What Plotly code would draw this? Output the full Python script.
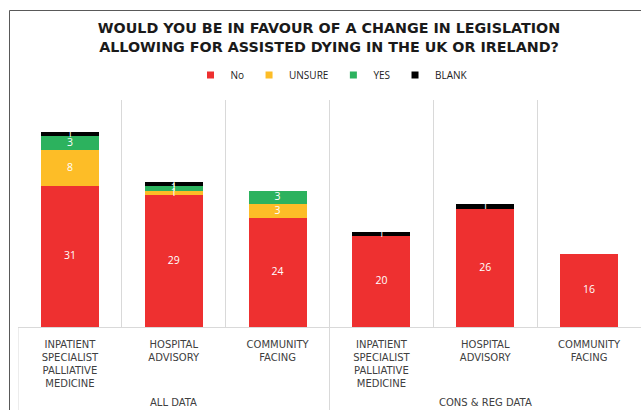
import plotly.graph_objects as go

# ---- data ----
cat_labels = [
    "INPATIENT<br>SPECIALIST<br>PALLIATIVE<br>MEDICINE",
    "HOSPITAL<br>ADVISORY",
    "COMMUNITY<br>FACING",
    "INPATIENT<br>SPECIALIST<br>PALLIATIVE<br>MEDICINE",
    "HOSPITAL<br>ADVISORY",
    "COMMUNITY<br>FACING",
]
group_labels = ["ALL DATA", "CONS & REG DATA"]
group_centers = [1, 4]
no_vals = [31, 29, 24, 20, 26, 16]
unsure_vals = [8, 1, 3, 0, 0, 0]
yes_vals = [3, 1, 3, 0, 0, 0]
blank_vals = [1, 1, 0, 1, 1, 0]

series = [
    ("No", no_vals, "#EE3030"),
    ("UNSURE", unsure_vals, "#FDBD27"),
    ("YES", yes_vals, "#2CB25E"),
    ("BLANK", blank_vals, "#000000"),
]

xs = list(range(len(cat_labels)))

fig = go.Figure()
for name, vals, color in series:
    fig.add_trace(go.Bar(
        x=xs, y=vals, name=name, marker_color=color,
        marker_line_width=0, width=0.56,
        showlegend=False, legendgroup=name, hoverinfo="skip",
    ))

# data labels drawn above all bars (segment mid-points from stacked values)
base = [0] * len(xs)
for name, vals, color in series:
    mids = [b + v / 2 for b, v in zip(base, vals)]
    fig.add_trace(go.Scatter(
        x=xs, y=mids, mode="text",
        text=[str(v) if v else "" for v in vals],
        textposition="middle center",
        textfont=dict(color="white", size=10.5, family="Open Sans"),
        showlegend=False, hoverinfo="skip",
    ))
    base = [b + v for b, v in zip(base, vals)]

# legend entries with small square swatches
for name, vals, color in series:
    fig.add_trace(go.Scatter(
        x=[None], y=[None], mode="markers", name=name, legendgroup=name,
        marker=dict(symbol="square", size=7, color=color),
    ))

L, T, B = 18, 100, 83
W, H = 641, 410
pw, ph = W - L, H - T - B

def px_to_paper_x(p):
    return (p - L) / pw

def px_to_paper_y(p):
    return (H - B - p) / ph

fig.update_layout(
    width=W, height=H,
    margin=dict(l=L, r=0, t=T, b=B),
    barmode="stack",
    plot_bgcolor="white", paper_bgcolor="white",
    font=dict(family="Open Sans", color="#404040"),
    title=dict(
        text="<b>WOULD YOU BE IN FAVOUR OF A CHANGE IN LEGISLATION<br>ALLOWING FOR ASSISTED DYING IN THE UK OR IRELAND?</b>",
        x=329 / W, xanchor="center", y=1 - 33 / H, yanchor="middle",
        font=dict(size=14.3, color="#1a1a1a", family="DejaVu Sans"),
    ),
    legend=dict(
        orientation="h", x=px_to_paper_x(332), xanchor="center",
        y=px_to_paper_y(75), yanchor="middle",
        font=dict(size=10, color="#222222"),
        itemwidth=30, bgcolor="rgba(0,0,0,0)",
    ),
    xaxis=dict(
        range=[-0.5, 5.5],
        tickvals=xs, ticktext=cat_labels,
        tickfont=dict(size=10, color="#404040", family="DejaVu Sans"),
        ticklabelstandoff=8,
        showgrid=False, ticks="",
        showline=True, linecolor="#D9D9D9", linewidth=1,
        minor=dict(tick0=-0.5, dtick=1, showgrid=True, gridcolor="#D9D9D9", gridwidth=1),
        zeroline=False, fixedrange=True,
    ),
    yaxis=dict(range=[0, 50], visible=False, showgrid=False, zeroline=False, fixedrange=True),
)

for g, c in zip(group_labels, group_centers):
    fig.add_annotation(
        x=c, xref="x", y=px_to_paper_y(402), yref="paper",
        text=g, showarrow=False, yanchor="middle",
        font=dict(size=10, color="#404040", family="DejaVu Sans"),
    )

# divider lines in the category label area
for xv in [-0.5, 2.5]:
    fig.add_shape(type="line", xref="x", yref="paper",
                  x0=xv, x1=xv, y0=0, y1=px_to_paper_y(H + 5),
                  line=dict(color="#D9D9D9", width=1))

# outer chart border (left and top edges visible)
bx, by = px_to_paper_x(9.5), px_to_paper_y(10.5)
fig.add_shape(type="line", xref="paper", yref="paper",
              x0=bx, x1=bx, y0=px_to_paper_y(H + 5), y1=by,
              line=dict(color="#595959", width=1))
fig.add_shape(type="line", xref="paper", yref="paper",
              x0=bx, x1=px_to_paper_x(W + 5), y0=by, y1=by,
              line=dict(color="#595959", width=1))

fig.write_html("out.html", config={"displayModeBar": False},
               post_script="document.body.style.margin='0';")
